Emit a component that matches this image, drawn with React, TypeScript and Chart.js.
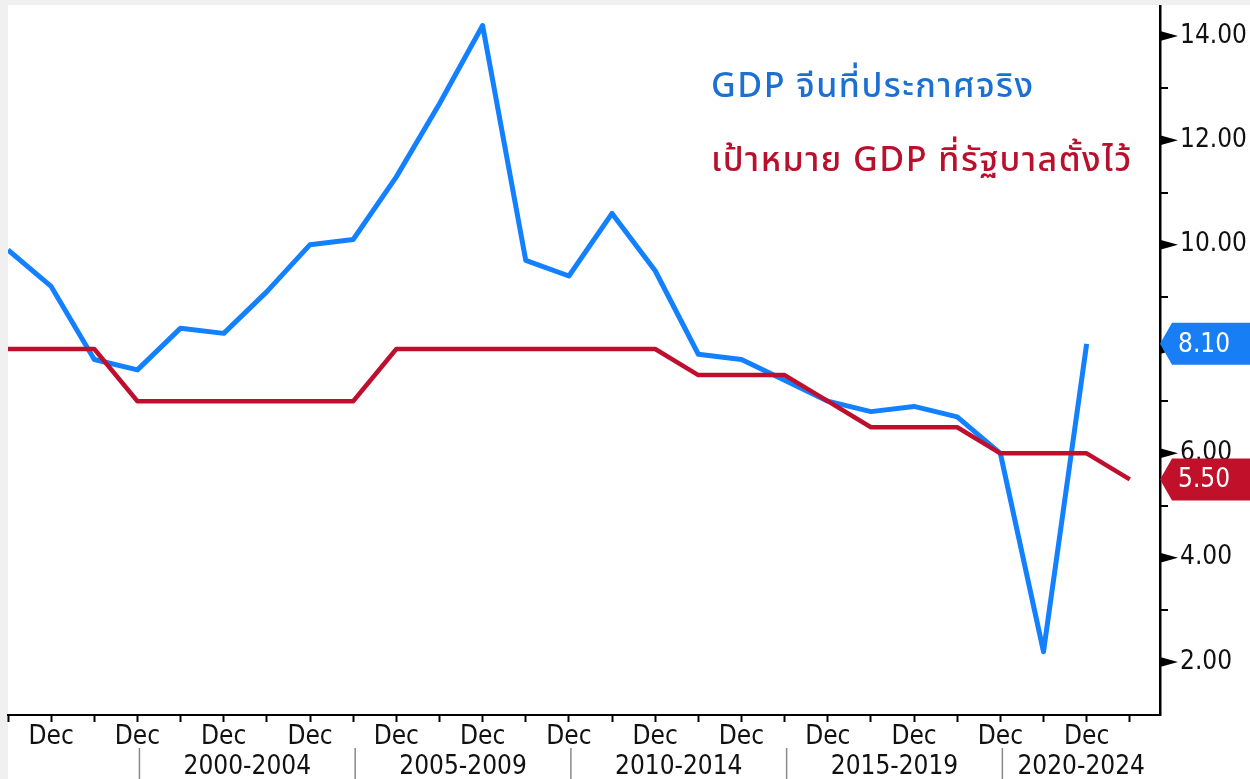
import React, { useEffect, useRef } from 'react';
import { Chart, registerables } from 'chart.js';

Chart.register(...registerables);

const years = [1996, 1997, 1998, 1999, 2000, 2001, 2002, 2003, 2004, 2005, 2006, 2007, 2008, 2009, 2010, 2011, 2012, 2013, 2014, 2015, 2016, 2017, 2018, 2019, 2020, 2021, 2022];
const actualGdp = [9.9, 9.2, 7.8, 7.6, 8.4, 8.3, 9.1, 10.0, 10.1, 11.3, 12.7, 14.2, 9.7, 9.4, 10.6, 9.5, 7.9, 7.8, 7.4, 7.0, 6.8, 6.9, 6.7, 6.0, 2.2, 8.1];
const targetGdp = [8.0, 8.0, 8.0, 7.0, 7.0, 7.0, 7.0, 7.0, 7.0, 8.0, 8.0, 8.0, 8.0, 8.0, 8.0, 8.0, 7.5, 7.5, 7.5, 7.0, 6.5, 6.5, 6.5, 6.0, 6.0, 6.0, 5.5];
const yTicks = [2, 4, 6, 8, 10, 12, 14];
const minorYTicks = [3, 5, 7, 9, 11, 13];
const periodLabels = ['2000-2004', '2005-2009', '2010-2014', '2015-2019', '2020-2024'];
const periodStarts = [1999, 2004, 2009, 2014, 2019];
const periodEnds = [2004, 2009, 2014, 2019, 2024];
const actualLabel = 'GDP จีนที่ประกาศจริง';
const targetLabel = 'เป้าหมาย GDP ที่รัฐบาลตั้งไว้';

const BLUE = 'rgb(18,128,255)';
const RED = 'rgb(190,16,46)';
const TAG_BLUE = 'rgb(24,126,245)';
const TAG_RED = 'rgb(192,16,42)';
const AXIS_FONT = '"DejaVu Sans Condensed", "Liberation Sans", Tahoma, sans-serif';
const THAI_FONT = '"Noto Sans Thai", "Noto Sans Thai UI", "Noto Sans", sans-serif';

const bgPlugin = {
  id: 'bgPlugin',
  beforeDraw(chart: any) {
    const ctx = chart.ctx;
    ctx.save();
    ctx.fillStyle = '#f0f0f0';
    ctx.fillRect(0, 0, chart.width, chart.height);
    ctx.fillStyle = '#ffffff';
    ctx.fillRect(8, 5, chart.width - 8, chart.height - 5);
    ctx.restore();
  },
};

function drawTag(ctx: any, x: number, y: number, w: number, text: string, color: string) {
  ctx.fillStyle = color;
  ctx.beginPath();
  ctx.moveTo(x, y);
  ctx.lineTo(x + 12, y - 21);
  ctx.lineTo(x + w, y - 21);
  ctx.lineTo(x + w, y + 21);
  ctx.lineTo(x + 12, y + 21);
  ctx.closePath();
  ctx.fill();
  ctx.fillStyle = '#ffffff';
  ctx.font = `26px ${AXIS_FONT}`;
  ctx.textAlign = 'left';
  ctx.textBaseline = 'middle';
  ctx.fillText(text, x + 18, y + 1);
}

const overlayPlugin = {
  id: 'overlayPlugin',
  afterDraw(chart: any) {
    const { ctx, chartArea, scales } = chart;
    const xs = scales.x;
    const ys = scales.y;
    const right = chartArea.right;
    ctx.save();
    // major y tick darts
    ctx.fillStyle = '#000';
    yTicks.forEach((v) => {
      const py = ys.getPixelForValue(v);
      ctx.beginPath();
      ctx.moveTo(right, py - 5);
      ctx.lineTo(right + 18, py);
      ctx.lineTo(right, py + 5);
      ctx.closePath();
      ctx.fill();
    });
    // minor y ticks
    ctx.strokeStyle = '#000';
    ctx.lineWidth = 2;
    minorYTicks.forEach((v) => {
      const py = Math.round(ys.getPixelForValue(v));
      ctx.beginPath();
      ctx.moveTo(right, py);
      ctx.lineTo(right + 8, py);
      ctx.stroke();
    });
    // period row
    ctx.font = `26px ${AXIS_FONT}`;
    ctx.textAlign = 'center';
    ctx.textBaseline = 'middle';
    periodLabels.forEach((lab, i) => {
      const sx = xs.getPixelForValue(periodStarts[i]) + 2;
      const ex = Math.min(xs.getPixelForValue(periodEnds[i]) + 2, right);
      if (sx >= chartArea.left && sx <= right) {
        ctx.strokeStyle = '#8a8a8a';
        ctx.lineWidth = 1.5;
        ctx.beginPath();
        ctx.moveTo(sx, 748);
        ctx.lineTo(sx, 779);
        ctx.stroke();
      }
      ctx.fillStyle = '#111';
      ctx.fillText(lab, (Math.max(sx, chartArea.left) + ex) / 2, 767);
    });
    // value tags
    const lastA = actualGdp[actualGdp.length - 1];
    const lastT = targetGdp[targetGdp.length - 1];
    drawTag(ctx, right, ys.getPixelForValue(lastA), chart.width - right, lastA.toFixed(2), TAG_BLUE);
    drawTag(ctx, right, ys.getPixelForValue(lastT), chart.width - right, lastT.toFixed(2), TAG_RED);
    // legend texts
    ctx.font = `500 34px ${THAI_FONT}`;
    try { (ctx as any).letterSpacing = '1.5px'; } catch (e) { /* ignore */ }
    ctx.textAlign = 'left';
    ctx.textBaseline = 'alphabetic';
    ctx.fillStyle = 'rgb(28,112,210)';
    ctx.fillText(actualLabel, 711, 97);
    ctx.fillStyle = 'rgb(184,17,45)';
    ctx.fillText(targetLabel, 711, 171);
    try { (ctx as any).letterSpacing = '0px'; } catch (e) { /* ignore */ }
    ctx.restore();
  },
};

export default function App() {
  const ref = useRef<HTMLCanvasElement | null>(null);

  useEffect(() => {
    if (!ref.current) return;
    const actualPts = actualGdp.map((v, i) => ({ x: years[i], y: v }));
    const targetPts = targetGdp.map((v, i) => ({ x: years[i], y: v }));
    const chart = new Chart(ref.current, {
      type: 'line',
      data: {
        datasets: [
          {
            label: targetLabel,
            data: targetPts,
            borderColor: RED,
            borderWidth: 4.5,
            pointRadius: 0,
            tension: 0,
            borderJoinStyle: 'round',
            fill: false,
          },
          {
            label: actualLabel,
            data: actualPts,
            borderColor: BLUE,
            borderWidth: 5,
            pointRadius: 0,
            tension: 0,
            borderJoinStyle: 'round',
            fill: false,
          },
        ],
      },
      options: {
        responsive: false,
        animation: false,
        events: [],
        layout: { padding: { left: 8, top: 6, right: 0, bottom: 0 } },
        plugins: { legend: { display: false }, tooltip: { enabled: false } },
        scales: {
          x: {
            type: 'linear',
            min: 1996,
            max: 2022.7,
            afterBuildTicks: (axis: any) => {
              axis.ticks = years.map((v) => ({ value: v }));
            },
            afterFit: (axis: any) => {
              axis.height = 64;
              axis.paddingLeft = 0;
              axis.paddingRight = 0;
            },
            border: { display: true, color: '#000', width: 2 },
            grid: {
              display: true,
              drawOnChartArea: false,
              drawTicks: true,
              tickLength: 7,
              tickColor: '#000',
              tickWidth: 2,
            },
            ticks: {
              autoSkip: false,
              maxRotation: 0,
              minRotation: 0,
              padding: 0,
              color: '#111',
              font: { family: AXIS_FONT, size: 26 },
              callback: (value: any) => (Number(value) % 2 === 1 ? 'Dec' : ''),
            },
          },
          y: {
            type: 'linear',
            position: 'right',
            min: 0.985,
            max: 14.575,
            afterBuildTicks: (axis: any) => {
              axis.ticks = yTicks.map((v) => ({ value: v }));
            },
            afterFit: (axis: any) => {
              axis.width = 90;
              axis.paddingTop = 0;
              axis.paddingBottom = 0;
            },
            border: { display: true, color: '#000', width: 2.5 },
            grid: {
              display: true,
              drawOnChartArea: false,
              drawTicks: true,
              tickLength: 18,
              tickColor: 'rgba(0,0,0,0)',
            },
            ticks: {
              padding: 2,
              color: '#111',
              font: { family: AXIS_FONT, size: 26 },
              callback: (value: any) => Number(value).toFixed(2),
            },
          },
        },
      },
      plugins: [bgPlugin, overlayPlugin],
    } as any);
    return () => chart.destroy();
  }, []);

  return (
    <div style={{ position: 'fixed', left: 0, top: 0, width: 1250, height: 779 }}>
      <canvas ref={ref} width={1250} height={779} style={{ display: 'block', width: 1250, height: 779 }} />
    </div>
  );
}
